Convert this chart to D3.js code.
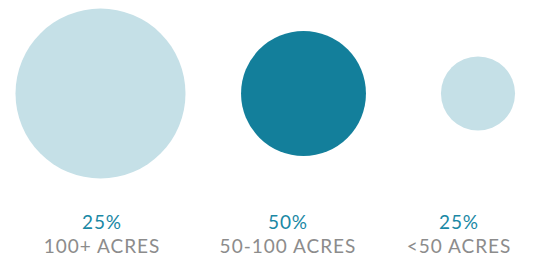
<!DOCTYPE html>
<html>
<head>
<meta charset="utf-8">
<script src="https://cdn.jsdelivr.net/npm/d3@7"></script>
<style>
  body { margin: 0; background: #fff; }
  text { font-family: Lato, "Open Sans", sans-serif; }
</style>
</head>
<body>
<div id="chart"></div>
<script>
// data
var categories = ["100+ ACRES", "50-100 ACRES", "<50 ACRES"];
var shares = [25, 50, 25];            // percent shown under each circle
var relativeArea = [100, 54, 19];     // circle area, relative
var highlight = [false, true, false];

var width = 543, height = 257;

var svg = d3.select("#chart")
  .append("svg")
  .attr("width", width)
  .attr("height", height);

// circle and label positions (layout)
var xCircle = d3.scaleOrdinal().domain(categories).range([100.5, 303.5, 478]);
var xLabel = d3.scaleOrdinal().domain(categories).range([102, 288, 459]);
var r = d3.scaleSqrt().domain([0, 100]).range([0, 85]);

var cy = 93.5;

var data = categories.map(function(c, i) {
  return {cat: c, share: shares[i], area: relativeArea[i], hi: highlight[i]};
});

// circles
svg.append("g")
  .selectAll("circle")
  .data(data)
  .enter()
  .append("circle")
  .attr("cx", function(d) { return xCircle(d.cat); })
  .attr("cy", cy)
  .attr("r", function(d) { return r(d.area); })
  .attr("fill", function(d) { return d.hi ? "#137f9b" : "#c5e0e7"; });

// percent labels
svg.append("g")
  .selectAll("text")
  .data(data)
  .enter()
  .append("text")
  .attr("x", function(d) { return xLabel(d.cat); })
  .attr("y", 229)
  .attr("text-anchor", "middle")
  .style("font-size", "19px")
  .style("letter-spacing", "0.9px")
  .style("fill", "#1a88a5")
  .text(function(d) { return d.share + "%"; });

// category labels
svg.append("g")
  .selectAll("text")
  .data(data)
  .enter()
  .append("text")
  .attr("x", function(d) { return xLabel(d.cat); })
  .attr("y", 252.5)
  .attr("text-anchor", "middle")
  .style("font-size", "19px")
  .style("letter-spacing", "1px")
  .style("fill", "#8c8c8c")
  .text(function(d) { return d.cat; });
</script>
</body>
</html>
